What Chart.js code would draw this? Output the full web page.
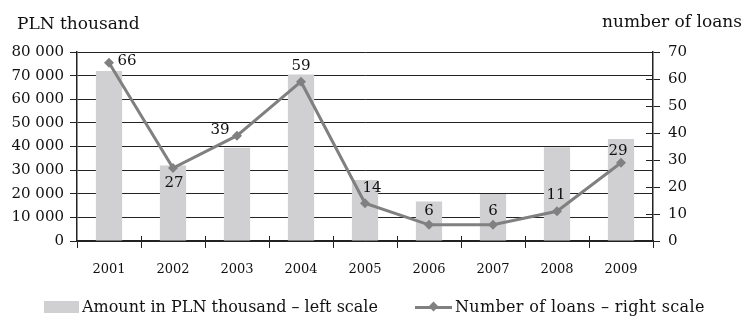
<!DOCTYPE html>
<html>
<head>
<meta charset="utf-8">
<script src="https://cdn.jsdelivr.net/npm/chart.js@4"></script>
<style>
    body { margin: 0; background: #fff; }
    #wrap { position: relative; width: 745px; height: 320px; font-family: "DejaVu Serif", serif; color: #111; }
    #wrap canvas { position: absolute; left: 0; top: 0; }
    .title { position: absolute; font-size: 17px; white-space: nowrap; }
    .legend { position: absolute; top: 297px; left: 44px; font-size: 16px; white-space: nowrap; display: flex; align-items: center; }
    .swatch { display: inline-block; width: 35px; height: 12px; background: #d0d0d2; margin-right: 3px; }
    .lineSample { position: relative; display: inline-block; width: 37px; height: 12px; margin-left: 37px; margin-right: 3px; }
    .lineSample::before { content: ""; position: absolute; left: 0; right: 0; top: 5px; height: 3px; background: #808080; }
    .lineSample::after { content: ""; position: absolute; left: 15px; top: 2px; width: 7px; height: 7px; background: #808080; transform: rotate(45deg); }
    .legend .second { letter-spacing: 0.35px; }
</style>
</head>
<body>
<div id="wrap">
    <canvas id="chart" width="745" height="320"></canvas>
    <div class="title" style="left:17px; top:13px;">PLN thousand</div>
    <div class="title" style="right:3px; top:11px;">number of loans</div>
    <div class="legend">
        <span class="swatch"></span>Amount in PLN thousand – left scale<span class="lineSample"></span><span class="second">Number of loans – right scale</span>
    </div>
</div>
<script>
// Данные графика
const years = ["2001", "2002", "2003", "2004", "2005", "2006", "2007", "2008", "2009"];
const amounts = [72000, 32000, 39500, 70500, 25800, 16700, 19900, 39700, 43200];
const loans = [66, 27, 39, 59, 14, 6, 6, 11, 29];
const leftTicks = [0, 10000, 20000, 30000, 40000, 50000, 60000, 70000, 80000];
const rightTicks = [0, 10, 20, 30, 40, 50, 60, 70];

// Смещения подписей к точкам линии
const labelOffsets = [[18, -2], [1, 15], [-17, -6], [0, -16], [7, -15], [0, -14], [0, -14], [-1, -16], [-3, -12]];

const axisColor = "#222";

function formatThousands(v) {
    return String(v).replace(/\B(?=(\d{3})+(?!\d))/g, " ");
}

// Подписи значений и внутренние засечки осей
const extrasPlugin = {
    id: "extras",
    afterDatasetsDraw(chart) {
        const ctx = chart.ctx;
        const meta = chart.getDatasetMeta(1);
        ctx.save();
        ctx.font = "15px 'DejaVu Serif'";
        ctx.fillStyle = "#111";
        ctx.textAlign = "center";
        ctx.textBaseline = "middle";
        meta.data.forEach((pt, i) => {
            const off = labelOffsets[i];
            ctx.fillText(String(loans[i]), pt.x + off[0], pt.y + off[1]);
        });
        ctx.restore();
    },
    afterDraw(chart) {
        const ctx = chart.ctx;
        const area = chart.chartArea;
        const y2 = chart.scales.y2;
        ctx.save();
        ctx.strokeStyle = axisColor;
        ctx.lineWidth = 1;
        ctx.beginPath();
        y2.ticks.forEach((t) => {
            const py = Math.round(y2.getPixelForValue(t.value)) + 0.5;
            ctx.moveTo(area.right - 7, py);
            ctx.lineTo(area.right, py);
        });
        const step = (area.right - area.left) / years.length;
        for (let k = 1; k < years.length; k++) {
            const px = Math.round(area.left + k * step) + 0.5;
            ctx.moveTo(px, area.bottom - 5);
            ctx.lineTo(px, area.bottom);
        }
        ctx.stroke();
        ctx.restore();
    },
};

new Chart(document.getElementById("chart"), {
    type: "bar",
    data: {
        labels: years,
        datasets: [
            {
                type: "bar",
                label: "Amount in PLN thousand – left scale",
                data: amounts,
                backgroundColor: "#d0d0d2",
                yAxisID: "y",
                categoryPercentage: 0.41,
                barPercentage: 1,
                order: 2,
            },
            {
                type: "line",
                label: "Number of loans – right scale",
                data: loans,
                borderColor: "#808080",
                backgroundColor: "#808080",
                borderWidth: 3,
                pointStyle: "rectRot",
                pointRadius: 5,
                pointBorderWidth: 0,
                tension: 0,
                yAxisID: "y2",
                order: 1,
            },
        ],
    },
    options: {
        responsive: false,
        animation: false,
        layout: { padding: { top: 52, bottom: 42, left: 0, right: 0 } },
        plugins: {
            legend: { display: false },
            tooltip: { enabled: false },
        },
        scales: {
            x: {
                offset: true,
                grid: { offset: true, drawOnChartArea: false, color: axisColor, tickLength: 7 },
                border: { color: axisColor, width: 1.5 },
                ticks: { color: "#111", font: { family: "DejaVu Serif", size: 13 }, padding: 14, maxRotation: 0 },
                afterFit(scale) { scale.height = 37; },
            },
            y: {
                position: "left",
                min: leftTicks[0],
                max: leftTicks[leftTicks.length - 1],
                afterBuildTicks(scale) { scale.ticks = leftTicks.map((v) => ({ value: v })); },
                grid: { color: axisColor, tickLength: 7 },
                border: { color: axisColor, width: 1.5 },
                ticks: {
                    color: "#111",
                    font: { family: "DejaVu Serif", size: 15 },
                    padding: 6,
                    callback: (v) => formatThousands(v),
                },
                afterFit(scale) { scale.width = 77; },
            },
            y2: {
                position: "right",
                min: rightTicks[0],
                max: rightTicks[rightTicks.length - 1],
                afterBuildTicks(scale) { scale.ticks = rightTicks.map((v) => ({ value: v })); },
                grid: { drawOnChartArea: false, color: axisColor, tickLength: 7 },
                border: { color: axisColor, width: 1.5 },
                ticks: { color: "#111", font: { family: "DejaVu Serif", size: 15 }, padding: 8 },
                afterFit(scale) { scale.width = 92; },
            },
        },
    },
    plugins: [extrasPlugin],
});
</script>
</body>
</html>
